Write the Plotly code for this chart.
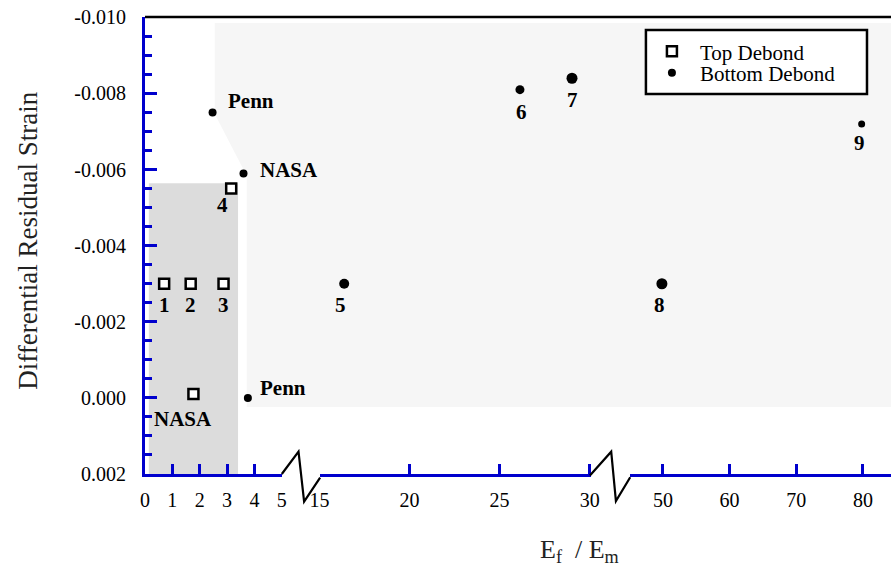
import plotly.graph_objects as go

# ---------------- data ----------------
top_x = [0.70, 1.67, 2.87, 3.15, 1.77]
top_y = [-0.0030, -0.0030, -0.0030, -0.0055, -0.0001]
top_labels = ["1", "2", "3", "4", "NASA"]

bot1_x = [2.47, 3.60, 3.76]
bot1_y = [-0.0075, -0.0059, 0.0000]
bot1_labels = ["Penn", "NASA", "Penn"]

bot2_x = [16.37, 26.13, 29.02]
bot2_y = [-0.0030, -0.0081, -0.0084]
bot2_labels = ["5", "6", "7"]

bot3_x = [49.85, 79.8]
bot3_y = [-0.0030, -0.0072]
bot3_labels = ["8", "9"]

x1_ticks = [0, 1, 2, 3, 4, 5]
x2_ticks = [15, 20, 25, 30]
x3_ticks = [50, 60, 70, 80]
y_ticks = [-0.010, -0.008, -0.006, -0.004, -0.002, 0.000, 0.002]
y_ticktext = ["-0.010", "-0.008", "-0.006", "-0.004", "-0.002", "0.000", "0.002"]

# ---------------- styling / positions ----------------
FONT = "Liberation Serif"
BLUE = "#0000CD"
SX = 902 / 891                  # compensation for horizontal page scaling
W, H = round(891 * SX), 576
PLOT_L, PLOT_T, PLOT_B = 143, 17, 474   # target pixel positions of plot area
ML, MR, MT = round(PLOT_L * SX), 0, PLOT_T
MB = H - PLOT_B
PW, PH = W - ML - MR, H - MT - MB


def px_x(px):
    return (px * SX - ML) / PW


def px_y(py):
    return (PLOT_B - py) / PH


top_sizes = [10, 10, 10, 10, 10]
bot1_sizes = [8, 8, 8]
bot2_sizes = [10, 9, 11]
bot3_sizes = [11, 7]

# label offsets (xshift, yshift, xanchor)
top_off = [(0, -21, "center"), (0, -21, "center"), (0, -21, "center"),
           (-9, -16, "center"), (-10, -25, "center")]
bot1_off = [(13, 12, "left"), (14, 3, "left"), (10, 10, "left")]
bot2_off = [(-4, -21, "center"), (2, -22, "center"), (0, -22, "center")]
bot3_off = [(-2, -21, "center"), (-2, -19, "center")]

fig = go.Figure()

sq_marker = dict(symbol="square", color="white", opacity=1,
                 line=dict(color="black", width=2.5))
fig.add_trace(go.Scatter(x=top_x, y=top_y, mode="markers", name="Top Debond",
                         xaxis="x", yaxis="y", legend="legend", showlegend=True,
                         marker=dict(size=top_sizes, **sq_marker)))
for i, (xs, ys, sz, ax) in enumerate([(bot1_x, bot1_y, bot1_sizes, "x"),
                                      (bot2_x, bot2_y, bot2_sizes, "x2"),
                                      (bot3_x, bot3_y, bot3_sizes, "x3")]):
    fig.add_trace(go.Scatter(x=xs, y=ys, mode="markers", name="Bottom Debond",
                             xaxis=ax, yaxis="y", legend="legend2",
                             showlegend=(i == 0),
                             marker=dict(size=sz, color="black", opacity=1,
                                         symbol="circle", line=dict(width=0))))

annotations = []
for xs, ys, labs, offs, ax in [(top_x, top_y, top_labels, top_off, "x"),
                               (bot1_x, bot1_y, bot1_labels, bot1_off, "x"),
                               (bot2_x, bot2_y, bot2_labels, bot2_off, "x2"),
                               (bot3_x, bot3_y, bot3_labels, bot3_off, "x3")]:
    for xv, yv, lab, (dx, dy, xa) in zip(xs, ys, labs, offs):
        annotations.append(dict(x=xv, y=yv, xref=ax, yref="y", text="<b>%s</b>" % lab,
                                showarrow=False, xshift=dx * SX, yshift=dy, xanchor=xa,
                                yanchor="middle",
                                font=dict(family=FONT, size=21, color="black")))

annotations.append(dict(x=px_x(26), y=px_y(241), xref="paper", yref="paper",
                        xanchor="center", yanchor="middle",
                        text="Differential Residual Strain", textangle=-90,
                        showarrow=False, font=dict(family=FONT, size=27, color="#222")))
annotations.append(dict(x=px_x(578), y=px_y(551), xref="paper", yref="paper",
                        xanchor="center", yanchor="middle",
                        text="E<sub>f</sub>  / E<sub>m</sub>",
                        showarrow=False, font=dict(family=FONT, size=26, color="#222")))

shapes = []
# light shaded region
light_pts = [(213, 23), (213, 114), (243, 172), (245, 172), (245, 407), (891, 407), (891, 23)]
path = "M " + " L ".join("%f,%f" % (px_x(a), px_y(b)) for a, b in light_pts) + " Z"
shapes.append(dict(type="path", xref="paper", yref="paper", path=path,
                   fillcolor="#f6f6f6", line=dict(width=0), layer="below"))
# dark shaded region
shapes.append(dict(type="rect", xref="x", yref="y", x0=0.14, x1=3.40, y0=0.002, y1=-0.00564,
                   fillcolor="#dcdcdc", line=dict(width=0), layer="below"))
# top frame line
shapes.append(dict(type="line", xref="paper", yref="paper", x0=0, x1=1, y0=1, y1=1,
                   line=dict(color="black", width=2.5), layer="below"))
# axis breaks
for pts in [[(280, 474), (296.7, 451.7), (302.3, 501.7), (318.3, 477.7)],
            [(588, 475.5), (609.3, 451.7), (614, 501), (628.3, 477.3)]]:
    p = "M " + " L ".join("%f,%f" % (px_x(a), px_y(b)) for a, b in pts)
    shapes.append(dict(type="path", xref="paper", yref="paper", path=p,
                       line=dict(color="black", width=2.2)))
# legend box
shapes.append(dict(type="rect", xref="paper", yref="paper",
                   x0=px_x(644), x1=px_x(865), y0=px_y(94), y1=px_y(30),
                   fillcolor="white", line=dict(color="black", width=2.5)))

xcommon = dict(showline=True, linecolor=BLUE, linewidth=3, ticks="inside",
               tickcolor=BLUE, tickwidth=2.5, ticklen=10, showgrid=False, zeroline=False,
               tickfont=dict(family=FONT, size=20, color="black"), anchor="y",
               ticklabelstandoff=6)

leg_common = dict(xanchor="left", yanchor="middle", bgcolor="rgba(0,0,0,0)",
                  borderwidth=0, itemwidth=46, visible=True,
                  font=dict(family=FONT, size=21, color="black"))

fig.update_layout(
    width=W, height=H, autosize=False,
    margin=dict(l=ML, r=MR, t=MT, b=MB),
    paper_bgcolor="white", plot_bgcolor="white",
    showlegend=True,
    xaxis=dict(domain=[0, px_x(280)], range=[0, 5], tickvals=x1_ticks, **xcommon),
    xaxis2=dict(domain=[px_x(317.7), px_x(589)], range=[15, 30.07], tickvals=x2_ticks, **xcommon),
    xaxis3=dict(domain=[px_x(628.3), 1], range=[45.1, 84.5], tickvals=x3_ticks, **xcommon),
    yaxis=dict(range=[0.002, -0.01001], tickvals=y_ticks, ticktext=y_ticktext,
               showline=True, linecolor=BLUE, linewidth=3, ticks="inside",
               tickcolor=BLUE, tickwidth=2.5, ticklen=12, showgrid=False, zeroline=False,
               minor=dict(dtick=0.0005, ticks="inside", ticklen=7, tickcolor=BLUE,
                          tickwidth=2.5, showgrid=False),
               tickfont=dict(family=FONT, size=20, color="black"), anchor="x",
               ticklabelstandoff=12),
    legend=dict(x=px_x(642), y=px_y(51.7), **leg_common),
    legend2=dict(x=px_x(642), y=px_y(73), **leg_common),
    annotations=annotations,
    shapes=shapes,
)

fig.write_html("out.html",
               config={"responsive": False, "displayModeBar": False},
               post_script="document.body.style.margin='0px';document.body.style.overflow='hidden';")
